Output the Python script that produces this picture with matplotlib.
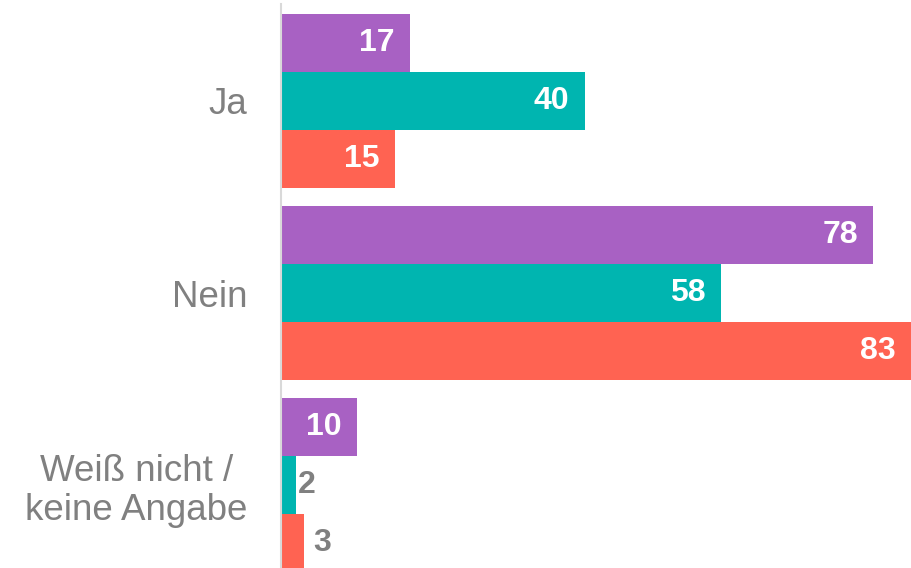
import numpy as np
import matplotlib
matplotlib.use("Agg")
import matplotlib.pyplot as plt

plt.rcParams["font.family"] = ["Liberation Sans", "DejaVu Sans"]

categories = ["Ja", "Nein", "Weiß nicht /\nkeine Angabe"]
series_a = [17, 78, 10]   # purple
series_b = [40, 58, 2]    # teal
series_c = [15, 83, 3]    # red
colors = ["#A861C3", "#00B5B0", "#FF6352"]

fig = plt.figure(figsize=(9.11, 5.68), dpi=100)
ax = fig.add_axes([281 / 911, 0, 1 - 281 / 911, 564 / 568])

bar_h = 58 / 192
offsets = [-bar_h, 0, bar_h]
y = np.arange(len(categories))

for series, off, col in zip([series_a, series_b, series_c], offsets, colors):
    ax.barh(y + off, series, height=bar_h, color=col, linewidth=0)
    for yi, v in zip(y, series):
        if v >= 5:
            ax.annotate(str(v), (v, yi + off), xytext=(-11, 0),
                        textcoords="offset points", ha="right", va="center",
                        color="white", fontsize=23, fontweight="bold")
        else:
            # small bars: label sits just outside the bar end
            pad = {2: 1, 3: 7}.get(v, 4)
            ax.annotate(str(v), (v, yi + off), xytext=(pad, 0),
                        textcoords="offset points", ha="left", va="center",
                        color="#808080", fontsize=23, fontweight="bold")

ax.set_xlim(0, 83)
ax.set_ylim(2.432, -0.505)

ax.set_yticks(y)
ax.set_yticklabels(categories, fontsize=26.5, color="#808080",
                   multialignment="center", linespacing=1.15)
ax.tick_params(axis="y", length=0, pad=24)
ax.set_xticks([])

for side in ["top", "right", "bottom"]:
    ax.spines[side].set_visible(False)
ax.spines["left"].set_color("#D9D9D9")
ax.spines["left"].set_linewidth(1.5)

fig.savefig("out.png", dpi=100)
